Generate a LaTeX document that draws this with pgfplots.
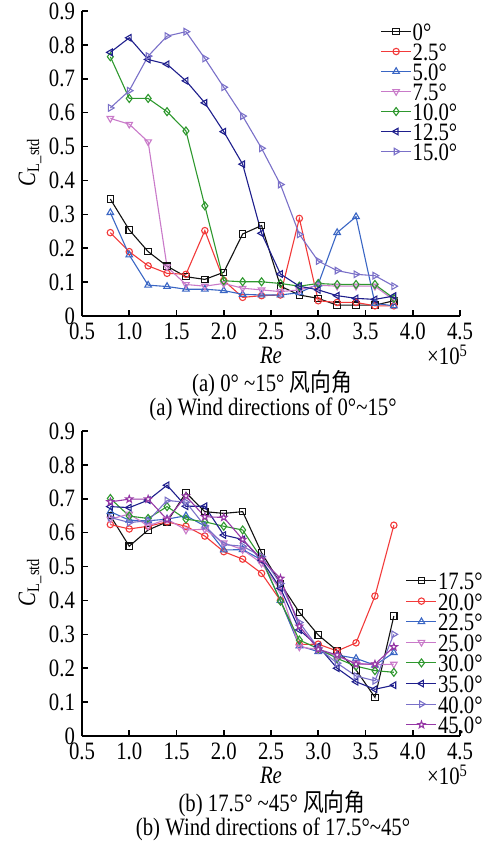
\documentclass[border=0pt]{standalone}
\usepackage{fontspec}
\setmainfont[FakeStretch=0.83]{Liberation Serif}
\newfontfamily\cjk[FakeStretch=0.83]{Noto Sans CJK SC}
\usepackage{pgfplots}
\usepackage{pgfplotstable}
\pgfplotsset{compat=1.18}

\definecolor{cblk}{HTML}{111111}
\definecolor{cred}{HTML}{F23A3A}
\definecolor{cblu}{HTML}{3A66C4}
\definecolor{cpnk}{HTML}{C97AC9}
\definecolor{cgrn}{HTML}{2E982E}
\definecolor{cdbl}{HTML}{1E1E8C}
\definecolor{clav}{HTML}{7A70C8}
\definecolor{cpur}{HTML}{9638A6}

% five-point star, outlined
\pgfdeclareplotmark{star5}{%
  \pgfpathmoveto{\pgfpointpolar{90}{1.15\pgfplotmarksize}}%
  \pgfpathlineto{\pgfpointpolar{126}{0.47\pgfplotmarksize}}%
  \pgfpathlineto{\pgfpointpolar{162}{1.15\pgfplotmarksize}}%
  \pgfpathlineto{\pgfpointpolar{198}{0.47\pgfplotmarksize}}%
  \pgfpathlineto{\pgfpointpolar{234}{1.15\pgfplotmarksize}}%
  \pgfpathlineto{\pgfpointpolar{270}{0.47\pgfplotmarksize}}%
  \pgfpathlineto{\pgfpointpolar{306}{1.15\pgfplotmarksize}}%
  \pgfpathlineto{\pgfpointpolar{342}{0.47\pgfplotmarksize}}%
  \pgfpathlineto{\pgfpointpolar{18}{1.15\pgfplotmarksize}}%
  \pgfpathlineto{\pgfpointpolar{54}{0.47\pgfplotmarksize}}%
  \pgfpathclose\pgfusepathqfillstroke}

% (a) 0 - 15 deg
\pgfplotstableread{
x    a00   a25   a50   a75   a100  a125  a150
0.8  0.345 0.246 0.305 0.583 0.765 0.778 0.614
1.0  0.254 0.190 0.180 0.566 0.642 0.821 0.665
1.2  0.190 0.148 0.091 0.514 0.642 0.757 0.767
1.4  0.147 0.126 0.087 0.145 0.603 0.743 0.826
1.6  0.116 0.123 0.079 0.093 0.546 0.694 0.839
1.8  0.108 0.252 0.079 0.088 0.325 0.629 0.760
2.0  0.129 0.105 0.075 0.096 0.104 0.544 0.675
2.2  0.242 0.055 0.064 0.082 0.101 0.448 0.590
2.4  0.267 0.060 0.062 0.077 0.101 0.244 0.495
2.6  0.088 0.062 0.062 0.072 0.096 0.124 0.388
2.8  0.062 0.288 0.069 0.077 0.088 0.088 0.241
3.0  0.052 0.045 0.094 0.091 0.096 0.077 0.162
3.2  0.032 0.040 0.246 0.088 0.093 0.060 0.134
3.4  0.032 0.040 0.293 0.088 0.093 0.052 0.123
3.6  0.032 0.030 0.037 0.088 0.093 0.049 0.119
3.8  0.045 0.030 0.030 0.047 0.052 0.059 0.088
}\tabA

% (b) 17.5 - 45 deg
\pgfplotstableread{
x    b175  b200  b225  b250  b300  b350  b400  b450
0.8  0.650 0.624 0.662 0.640 0.701 0.677 0.645 0.691
1.0  0.560 0.611 0.637 0.655 0.649 0.674 0.630 0.699
1.2  0.608 0.619 0.635 0.620 0.642 0.696 0.635 0.699
1.4  0.632 0.632 0.640 0.640 0.677 0.740 0.695 0.639
1.6  0.718 0.619 0.650 0.608 0.640 0.678 0.690 0.708
1.8  0.662 0.590 0.620 0.610 0.632 0.678 0.620 0.647
2.0  0.657 0.544 0.549 0.570 0.619 0.593 0.565 0.645
2.2  0.662 0.522 0.550 0.550 0.608 0.580 0.560 0.580
2.4  0.541 0.480 0.520 0.510 0.524 0.519 0.530 0.521
2.6  0.450 0.400 0.400 0.430 0.398 0.436 0.450 0.465
2.8  0.365 0.270 0.266 0.263 0.283 0.313 0.335 0.324
3.0  0.298 0.271 0.249 0.255 0.258 0.265 0.260 0.256
3.2  0.252 0.251 0.239 0.235 0.229 0.200 0.215 0.239
3.4  0.195 0.275 0.229 0.215 0.206 0.160 0.177 0.212
3.6  0.114 0.413 0.209 0.210 0.193 0.138 0.163 0.212
3.8  0.354 0.622 0.246 0.212 0.188 0.150 0.300 0.263
}\tabB

\pgfplotsset{
  clax/.style={
    scale only axis, width=189pt, height=152.5pt,
    xmin=0.5, xmax=4.5, ymin=0, ymax=0.9,
    axis x line*=bottom, axis y line*=left,
    axis line style={-, line width=0.8pt},
    tick style={line width=0.8pt, black},
    tick align=inside, major tick length=3pt,
    xtick={0.5,1,...,4.5}, ytick={0,0.1,...,0.9},
    xticklabel style={/pgf/number format/.cd, fixed, fixed zerofill, precision=1},
    yticklabel style={/pgf/number format/.cd, fixed, precision=1},
    /pgf/number format/assume math mode=true,
    tick label style={font=\fontsize{12.5}{14}\selectfont},
    every axis plot/.append style={line width=0.55pt, mark size=1.6pt,
      mark options={fill=white, solid}},
    legend style={draw=none, fill=none, font=\fontsize{12.5}{14}\selectfont,
      nodes={inner ysep=0.7pt, inner xsep=0.5pt, text height=8.6pt, text depth=0pt},
      cells={anchor=west}},
    legend image code/.code={%
      \draw[mark repeat=2, mark phase=2] plot coordinates {(0pt,0pt) (7.5pt,0pt) (15pt,0pt)};},
  },
  tri/.style={mark=triangle, mark size=1.9pt},
}

\newcommand{\lfont}{\fontsize{12.5}{14}\selectfont}

\begin{document}
\begin{tikzpicture}
\path[use as bounding box] (0,0) rectangle (245.5pt,-423pt);

% ---------- (a) ----------
\begin{axis}[clax, at={(41pt,-158pt)}, anchor=south west,
  legend style={at={(0.773,0.98)}, anchor=north west}]
\addplot[cblk, mark=square] table[x=x, y=a00] {\tabA};
\addlegendentry{0°}
\addplot[cred, mark=o] table[x=x, y=a25] {\tabA};
\addlegendentry{2.5°}
\addplot[cblu, tri] table[x=x, y=a50] {\tabA};
\addlegendentry{5.0°}
\addplot[cpnk, tri, mark options={rotate=180}] table[x=x, y=a75] {\tabA};
\addlegendentry{7.5°}
\addplot[cgrn, mark=diamond, mark size=2pt] table[x=x, y=a100] {\tabA};
\addlegendentry{10.0°}
\addplot[cdbl, tri, mark options={rotate=90}] table[x=x, y=a125] {\tabA};
\addlegendentry{12.5°}
\addplot[clav, tri, mark options={rotate=-90}] table[x=x, y=a150] {\tabA};
\addlegendentry{15.0°}
\end{axis}

\node[rotate=90, font=\lfont] at (15pt,-81pt) {\textit{C}\textsubscript{L\_std}};
\node[font=\lfont] at (135.5pt,-177.5pt) {\textit{Re}};
\node[font=\lfont, anchor=east] at (237.5pt,-177.5pt) {×10\textsuperscript{5}};
\node[font=\lfont] at (136pt,-192pt) {(a) 0° \textasciitilde15° {\cjk 风向角}};
\node[font=\lfont] at (136.5pt,-204.5pt) {(a) Wind directions of 0°\textasciitilde15°};

% ---------- (b) ----------
\begin{axis}[clax, at={(41pt,-368pt)}, anchor=south west,
  legend style={at={(0.84,0.558)}, anchor=north west,
    nodes={text height=8.9pt}}]
\addplot[cblk, mark=square] table[x=x, y=b175] {\tabB};
\addlegendentry{17.5°}
\addplot[cred, mark=o] table[x=x, y=b200] {\tabB};
\addlegendentry{20.0°}
\addplot[cblu, tri] table[x=x, y=b225] {\tabB};
\addlegendentry{22.5°}
\addplot[cpnk, tri, mark options={rotate=180}] table[x=x, y=b250] {\tabB};
\addlegendentry{25.0°}
\addplot[cgrn, mark=diamond, mark size=2pt] table[x=x, y=b300] {\tabB};
\addlegendentry{30.0°}
\addplot[cdbl, tri, mark options={rotate=90}] table[x=x, y=b350] {\tabB};
\addlegendentry{35.0°}
\addplot[clav, tri, mark options={rotate=-90}] table[x=x, y=b400] {\tabB};
\addlegendentry{40.0°}
\addplot[cpur, mark=star5] table[x=x, y=b450] {\tabB};
\addlegendentry{45.0°}
\end{axis}

\node[rotate=90, font=\lfont] at (15pt,-291pt) {\textit{C}\textsubscript{L\_std}};
\node[font=\lfont] at (135.5pt,-387.5pt) {\textit{Re}};
\node[font=\lfont, anchor=east] at (237.5pt,-387.5pt) {×10\textsuperscript{5}};
\node[font=\lfont] at (136pt,-402pt) {(b) 17.5° \textasciitilde45° {\cjk 风向角}};
\node[font=\lfont] at (136.5pt,-414.5pt) {(b) Wind directions of 17.5°\textasciitilde45°};
\end{tikzpicture}
\end{document}
